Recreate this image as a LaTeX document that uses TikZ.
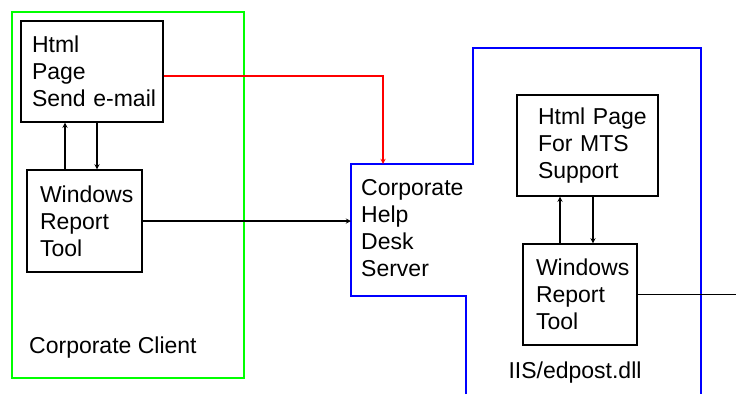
\documentclass[tikz,border=0pt]{standalone}
\usepackage{fontspec}
\setmainfont{Liberation Sans}
\hyphenpenalty=10000
\exhyphenpenalty=10000
\tikzset{
	boxstyle/.style={rectangle,draw=black,line width=1.3pt,inner sep=0pt,align=left,font=\fontsize{23}{27}\selectfont},
	labelstyle/.style={inner sep=0pt,align=left,font=\fontsize{23}{27}\selectfont},
	linkstyle/.style={-stealth,line width=1.3pt}
}
\begin{document}
\begin{tikzpicture}[x=1pt,y=-1pt]
		\useasboundingbox (0,0) rectangle (736,394);
		\draw[green,line width=1.6pt] (12,12) rectangle (244,378);
		\draw[blue,line width=1.6pt] (466,394) -- (466,296) -- (351,296) -- (351,164) -- (473,164) -- (473,48) -- (701,48) -- (701,394);
		\coordinate (srvtop) at (383,164);
		\coordinate (srvleft) at (351,220);
		\coordinate (outlet) at (736,294);
		\node[boxstyle,minimum width=142pt,minimum height=101pt,text width=120pt] (page) at (92,71.5) {Html\\Page\\Send~e-mail};
		\node[boxstyle,minimum width=115pt,minimum height=102pt,text width=89pt] (wrtc) at (84.5,221) {Windows\\Report\\Tool};
		\node[boxstyle,minimum width=141pt,minimum height=101pt,text width=99pt] (mts) at (587.5,145.5) {Html~Page\\For~MTS\\Support};
		\node[boxstyle,minimum width=114pt,minimum height=101pt,text width=88pt] (wrts) at (580,294.5) {Windows\\Report\\Tool};
		\node[labelstyle,anchor=west] (server) at (361,228) {Corporate\\Help\\Desk\\Server};
		\node[labelstyle,anchor=west] (client) at (29,348) {Corporate Client};
		\node[labelstyle] (iis) at (575,373) {IIS/edpost.dll};
		\draw[linkstyle] ([xshift=-19.5pt]wrtc.north) -- ([xshift=-19.5pt]wrtc.north |- page.south);
		\draw[linkstyle] ([xshift=5pt]page.south) -- ([xshift=5pt]page.south |- wrtc.north);
		\draw[linkstyle,red] ([yshift=-4.5pt]page.east) -| (srvtop);
		\draw[linkstyle] (wrtc.east) -- (wrtc.east -| srvleft);
		\draw[linkstyle] ([xshift=-20pt]wrts.north) -- ([xshift=-20pt]wrts.north |- mts.south);
		\draw[linkstyle] ([xshift=5.5pt]mts.south) -- ([xshift=5.5pt]mts.south |- wrts.north);
		\draw[line width=1.3pt] (wrts.east) -- (wrts.east -| outlet);
		\end{tikzpicture}
\end{document}
